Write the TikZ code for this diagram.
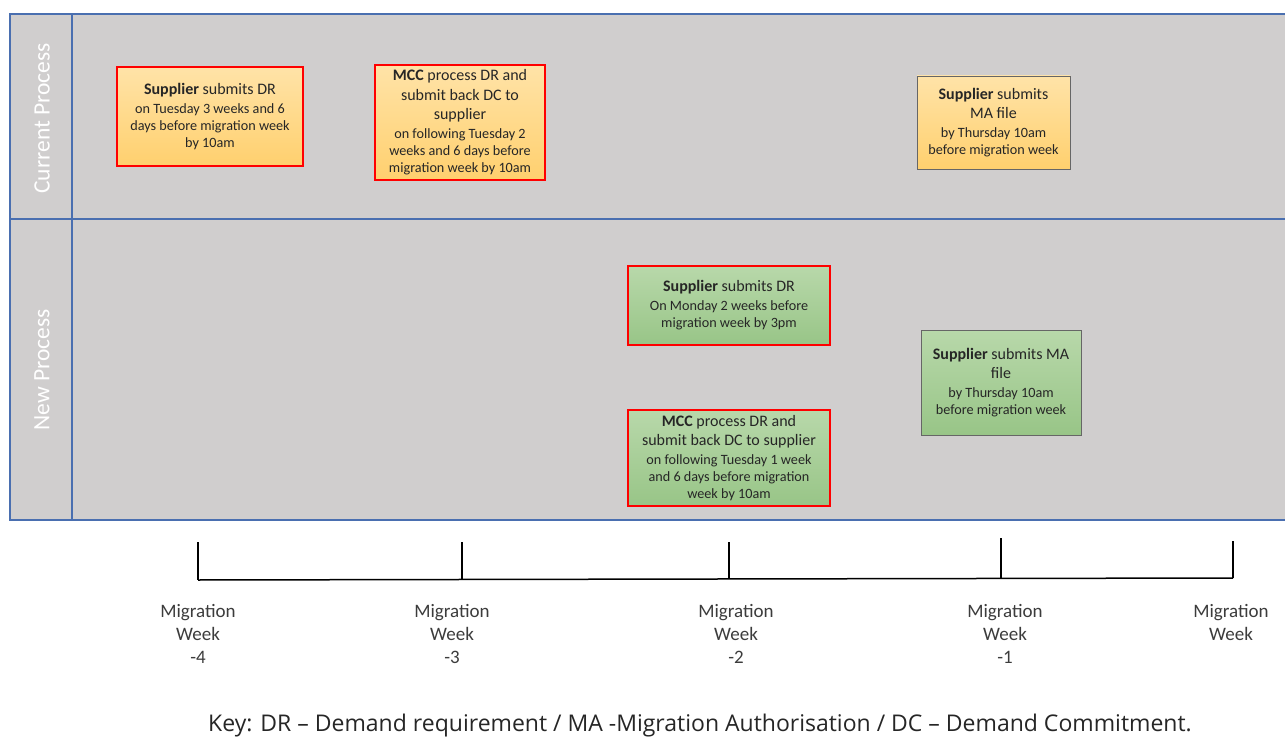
\documentclass[tikz,border=0pt]{standalone}
\usepackage{fontspec}
\setmainfont{Carlito}
\newfontfamily\keyfont{Open Sans}
\usetikzlibrary{positioning}
\definecolor{lanegray}{HTML}{D0CECE}
\definecolor{laneblue}{HTML}{4A6FB0}
\definecolor{txt}{HTML}{262626}
\definecolor{orTop}{HTML}{FFE3A8}
\definecolor{orBot}{HTML}{FFD06E}
\definecolor{grTop}{HTML}{B8D8AA}
\definecolor{grBot}{HTML}{98C587}
\newcommand{\bigline}[1]{{\fontsize{16}{19.5}\selectfont #1}}
\tikzset{
  lane/.style={draw=laneblue, line width=1.2pt},
  lanelabel/.style={text=white, font=\fontsize{23.5}{26}\selectfont, rotate=90},
  boxbase/.style={align=center, text=txt, inner sep=0pt, font=\fontsize{14.2}{17}\selectfont},
  orange/.style={boxbase, top color=orTop, bottom color=orBot},
  green/.style={boxbase, top color=grTop, bottom color=grBot},
  redframe/.style={draw=red, line width=2.6pt},
  grayframe/.style={draw=gray!80!black, line width=0.8pt},
  axis/.style={draw=black, line width=1.5pt},
  weeklabel/.style={align=center, text=txt!90, font=\fontsize{19}{23}\selectfont},
}
\begin{document}
\begin{tikzpicture}[x=1pt,y=-1pt]
\clip (0,0) rectangle (1285,738);
\fill[white] (0,0) rectangle (1285,738);
% swimlanes
\fill[lanegray] (10,14) rectangle (1295,520);
\draw[lane] (10,14) rectangle (1295,520);
\draw[lane] (10,219) -- (1295,219);
\draw[lane] (72,14) -- (72,520);
\node[lanelabel] (cur) at (42,118.5) {Current Process};
\node[lanelabel] (new) at (42,370) {New Process};
% current process boxes
\node[orange, redframe, minimum width=186, minimum height=99] (c1) at (210,116.5)
 {\bigline{\textbf{Supplier} submits DR}\\[2.5pt]on Tuesday 3 weeks and 6\\days before migration week\\by 10am};
\node[orange, redframe, minimum width=170, minimum height=115] (c2) at (460,122.5)
 {\bigline{\textbf{MCC} process DR and}\\[2.5pt]\bigline{submit back DC to}\\[2.5pt]\bigline{supplier}\\[2pt]on following Tuesday 2\\weeks and 6 days before\\migration week by 10am};
\node[orange, grayframe, minimum width=153, minimum height=93] (c3) at (993.5,122.5)
 {\bigline{\textbf{Supplier} submits}\\[2.5pt]\bigline{MA file}\\[2pt]by Thursday 10am\\before migration week};
% new process boxes
\node[green, redframe, minimum width=202, minimum height=79] (n1) at (729,305.5)
 {\bigline{\textbf{Supplier} submits DR}\\[2pt]On Monday 2 weeks before\\migration week by 3pm};
\node[green, redframe, minimum width=202, minimum height=96] (n2) at (729,458)
 {\bigline{\textbf{MCC} process DR and}\\[2.5pt]\bigline{submit back DC to supplier}\\[2pt]on following Tuesday 1 week\\and 6 days before migration\\week by 10am};
\node[green, grayframe, minimum width=160, minimum height=105] (n3) at (1001,382.5)
 {\bigline{\textbf{Supplier} submits MA}\\[2.5pt]\bigline{file}\\[2pt]by Thursday 10am\\before migration week};
% timeline
\coordinate (b4) at (198,580); \coordinate (t4) at (198,542);
\coordinate (b3) at (462,579.5); \coordinate (t3) at (462,542);
\coordinate (b2) at (729,579); \coordinate (t2) at (729,542);
\coordinate (b1) at (1001,578.5); \coordinate (t1) at (1001,538);
\coordinate (b0) at (1233,578); \coordinate (t0) at (1233,541);
\draw[axis] (b4) -- (b0);
\draw[axis] (t4) -- (b4);
\draw[axis] (t3) -- (b3);
\draw[axis] (t2) -- (b2);
\draw[axis] (t1) -- (b1);
\draw[axis] (t0) -- (b0);
\node[weeklabel, anchor=north] (w4) at (198,601) {Migration\\Week\\-4};
\node[weeklabel, anchor=north] (w3) at (452,601) {Migration\\Week\\-3};
\node[weeklabel, anchor=north] (w2) at (736,601) {Migration\\Week\\-2};
\node[weeklabel, anchor=north] (w1) at (1005,601) {Migration\\Week\\-1};
\node[weeklabel, anchor=north] (w0) at (1231,601) {Migration\\Week};
% key
\node[text=txt, font=\keyfont\fontsize{23}{26}\selectfont, inner sep=0pt] (key) at (700,725.5)
 {Key: DR – Demand requirement / MA -Migration Authorisation / DC – Demand Commitment.};
\end{tikzpicture}
\end{document}
